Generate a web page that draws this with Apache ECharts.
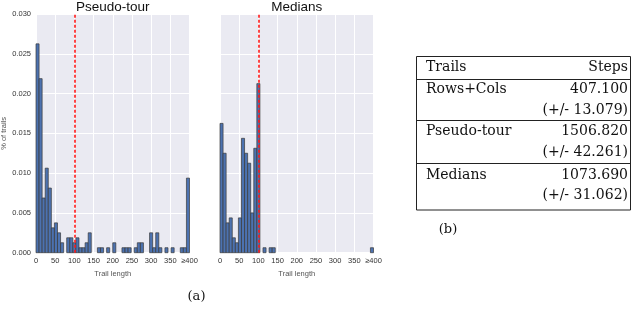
<!DOCTYPE html>
<html><head><meta charset="utf-8">
<script src="https://cdn.jsdelivr.net/npm/echarts@6/dist/echarts.min.js"></script>
<style>html,body{margin:0;padding:0;background:#fff}#c{width:640px;height:309px}</style>
</head><body><div id="c"></div>
<script>
// ---- data ----
const binWidth = 8;
const binStarts = [0,8,16,24,32,40,48,56,64,72,80,88,96,104,112,120,128,136,144,152,160,168,176,184,192,200,208,216,224,232,240,248,256,264,272,280,288,296,304,312,320,328,336,344,352,360,368,376,384,392];
const pseudoTour = [0.02625,0.021875,0.006875,0.010625,0.008125,0.003125,0.00375,0.0025,0.00125,0,0.001875,0.001875,0.00125,0.001875,0.000625,0.000625,0.00125,0.0025,0,0,0.000625,0.000625,0,0.000625,0,0.00125,0,0,0.000625,0.000625,0.000625,0,0.000625,0.00125,0.00125,0,0,0.0025,0.000625,0.0025,0.000625,0,0.000625,0,0.000625,0,0,0.000625,0.000625,0.009375];
const medians = [0.01625,0.0125,0.00375,0.004375,0.001875,0.00125,0.004375,0.014375,0.0125,0.01125,0.005,0.013125,0.02125,0,0.000625,0,0.000625,0.000625,0,0,0,0,0,0,0,0,0,0,0,0,0,0,0,0,0,0,0,0,0,0,0,0,0,0,0,0,0,0,0,0.000625];
const threshold = 100;
const panelTitles = ['Pseudo-tour','Medians'];
const xTickLabels = {0:'0',50:'50',100:'100',150:'150',200:'200',250:'250',300:'300',350:'350',400:'\u2265400'};
const tableHeader = ['Trails','Steps'];
const tableRows = ['Rows+Cols','Pseudo-tour','Medians'];
const tableSteps = ['407.100','1506.820','1073.690'];
const tableErr = ['(+/- 13.079)','(+/- 42.261)','(+/- 31.062)'];

// ---- chart ----
const chart = echarts.init(document.getElementById('c'), null, {renderer:'canvas'});
const tickFont = {fontFamily:'Liberation Sans, Arial, sans-serif', fontSize:7.5, color:'#333'};

function renderBar(params, api){
  const v = api.value(2);
  if(!v) return null;
  const p0 = api.coord([api.value(0), v]);
  const p1 = api.coord([api.value(1), 0]);
  return {type:'rect', shape:{x:p0[0], y:p0[1], width:p1[0]-p0[0], height:p1[1]-p0[1]},
    style:{fill:'#4c72b0', stroke:'#3a3a3a', lineWidth:0.7}};
}
function mkData(vals){ return binStarts.map((s,i)=>[s, s+binWidth, vals[i]]); }

const grids = [
  {left:36, top:14, width:153.5, height:238.7},
  {left:220, top:14, width:153.5, height:238.7}
].map(g=>Object.assign(g,{show:true, backgroundColor:'#eaeaf2', borderWidth:0, containLabel:false, outerBoundsMode:'none'}));

function xAx(i){
  return {type:'value', gridIndex:i, min:0, max:400, interval:50,
    axisLine:{show:false}, axisTick:{show:false},
    splitLine:{show:true, lineStyle:{color:'#ffffff', width:1}},
    axisLabel:Object.assign({margin:4, formatter:v=>xTickLabels[v]!==undefined?xTickLabels[v]:''}, tickFont),
    name:'Trail length', nameLocation:'middle', nameGap:14,
    nameTextStyle:{fontFamily:'Liberation Sans, Arial, sans-serif', fontSize:7.5, color:'#555'}};
}
function yAx(i){
  return {type:'value', gridIndex:i, min:0, max:0.03, interval:0.005,
    axisLine:{show:false}, axisTick:{show:false},
    splitLine:{show:true, lineStyle:{color:'#ffffff', width:1}},
    axisLabel:Object.assign({show:i===0, margin:5, formatter:v=>v.toFixed(3)}, tickFont),
    name:i===0?'% of trails':'', nameLocation:'middle', nameGap:27,
    nameTextStyle:{fontFamily:'Liberation Sans, Arial, sans-serif', fontSize:7.5, color:'#555'}};
}
function redLine(i){
  return {type:'line', xAxisIndex:i, yAxisIndex:i, data:[], silent:true, z:10,
    markLine:{silent:true, symbol:['none','none'], label:{show:false},
      lineStyle:{color:'#ff1a1a', type:[3,2], width:1.6},
      data:[{xAxis:threshold}]}};
}

const tFont = 'DejaVu Serif, serif';
const tableEls = [];
tableEls.push({type:'rect', shape:{x:416.5, y:56.5, width:214, height:153.5}, style:{fill:'none', stroke:'#222', lineWidth:1}});
[79.5,120.5,163.5].forEach(y=>tableEls.push({type:'line', shape:{x1:416.5,y1:y,x2:630.5,y2:y}, style:{stroke:'#222', lineWidth:1}}));
tableEls.push({type:'text', style:{text:tableHeader[0], x:426, y:67, textAlign:'left', textVerticalAlign:'middle', font:'14px '+tFont, fill:'#111'}});
tableEls.push({type:'text', style:{text:tableHeader[1], x:628, y:67, textAlign:'right', textVerticalAlign:'middle', font:'14px '+tFont, fill:'#111'}});
const rowY = [89, 131.5, 175.5];
const errY = [110, 152.5, 195.5];
tableRows.forEach((r,i)=>{
  tableEls.push({type:'text', style:{text:r, x:426, y:rowY[i], textAlign:'left', textVerticalAlign:'middle', font:'14px '+tFont, fill:'#111'}});
  tableEls.push({type:'text', style:{text:tableSteps[i], x:628, y:rowY[i], textAlign:'right', textVerticalAlign:'middle', font:'14px '+tFont, fill:'#111'}});
  tableEls.push({type:'text', style:{text:tableErr[i], x:628, y:errY[i], textAlign:'right', textVerticalAlign:'middle', font:'14px '+tFont, fill:'#111'}});
});
tableEls.push({type:'text', style:{text:'(b)', x:448, y:230, textAlign:'center', textVerticalAlign:'middle', font:'13px '+tFont, fill:'#111'}});
tableEls.push({type:'text', style:{text:'(a)', x:196.5, y:297, textAlign:'center', textVerticalAlign:'middle', font:'13px '+tFont, fill:'#111'}});
tableEls.push({type:'text', style:{text:panelTitles[0], x:112.8, y:7, textAlign:'center', textVerticalAlign:'middle', font:'13.5px Liberation Sans, Arial, sans-serif', fill:'#111'}});
tableEls.push({type:'text', style:{text:panelTitles[1], x:296.8, y:7, textAlign:'center', textVerticalAlign:'middle', font:'13.5px Liberation Sans, Arial, sans-serif', fill:'#111'}});

chart.setOption({
  animation:false,
  backgroundColor:'#ffffff',
  grid:grids,
  xAxis:[xAx(0), xAx(1)],
  yAxis:[yAx(0), yAx(1)],
  series:[
    {type:'custom', xAxisIndex:0, yAxisIndex:0, renderItem:renderBar, encode:{x:[0,1], y:2}, data:mkData(pseudoTour), z:2},
    {type:'custom', xAxisIndex:1, yAxisIndex:1, renderItem:renderBar, encode:{x:[0,1], y:2}, data:mkData(medians), z:2},
    redLine(0), redLine(1)
  ],
  graphic:{elements:tableEls}
});
</script></body></html>
